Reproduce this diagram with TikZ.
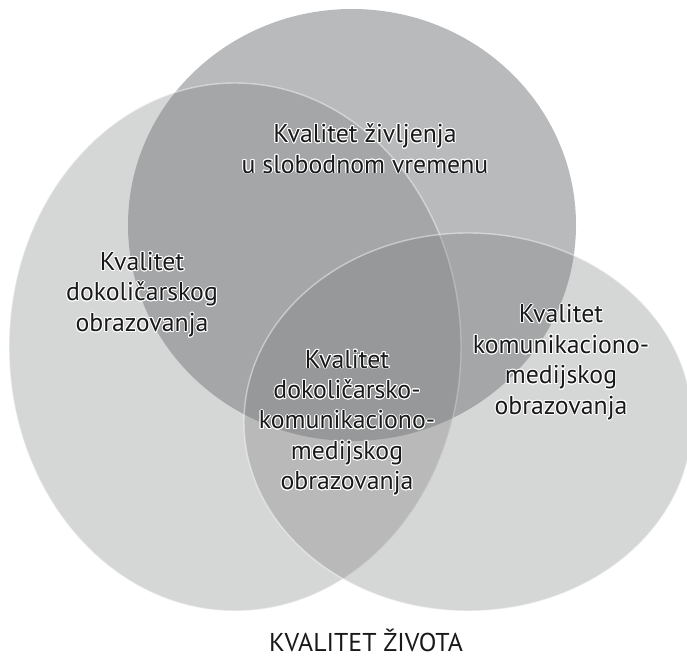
\documentclass[tikz,border=0pt]{standalone}
\usepackage{fontspec}
\setmainfont{PT Sans}
\usepackage{contour}
\contourlength{0.8pt}
\definecolor{topfill}{RGB}{185,186,188}
\definecolor{vennfill}{RGB}{121,122,124}
\def\halo#1{\contour{white}{#1}}
\tikzset{
	vennset/.style={fill=vennfill, fill opacity=0.31, draw=white, draw opacity=0.45, line width=1.2pt},
	lbl/.style={align=center, text=black!90, font=\fontsize{22}{26}\selectfont}
}

\begin{document}
\begin{tikzpicture}
			%%%%% START %%%%%
			\useasboundingbox (0, 0) rectangle (20.61, 19.83);
			
			\fill[topfill] (10.56, 13.08) ellipse (6.72 and 6.48);
			\draw[vennset] (7.05, 9.42) ellipse (6.78 and 7.92);
			\draw[vennset] (14.04, 7.17) ellipse (6.72 and 5.67);
			
			\node[lbl] (leisure) at (10.95, 15.36) {\halo{Kvalitet življenja}\\\halo{u slobodnom vremenu}};
			\node[lbl] (leisureedu) at (4.26, 10.98) {\halo{Kvalitet}\\\halo{dokoličarskog}\\\halo{obrazovanja}};
			\node[lbl] (mediaedu) at (16.83, 8.95) {\halo{Kvalitet}\\\halo{komunikaciono-}\\\halo{medijskog}\\\halo{obrazovanja}};
			\node[lbl] (joint) at (10.41, 7.14) {\halo{Kvalitet}\\\halo{dokoličarsko-}\\\halo{komunikaciono-}\\\halo{medijskog}\\\halo{obrazovanja}};
			
			\node[lbl, anchor=base] (life) at (10.98, 0.3) {KVALITET ŽIVOTA};
			
			%%%%% END %%%%%
\end{tikzpicture}
\end{document}
